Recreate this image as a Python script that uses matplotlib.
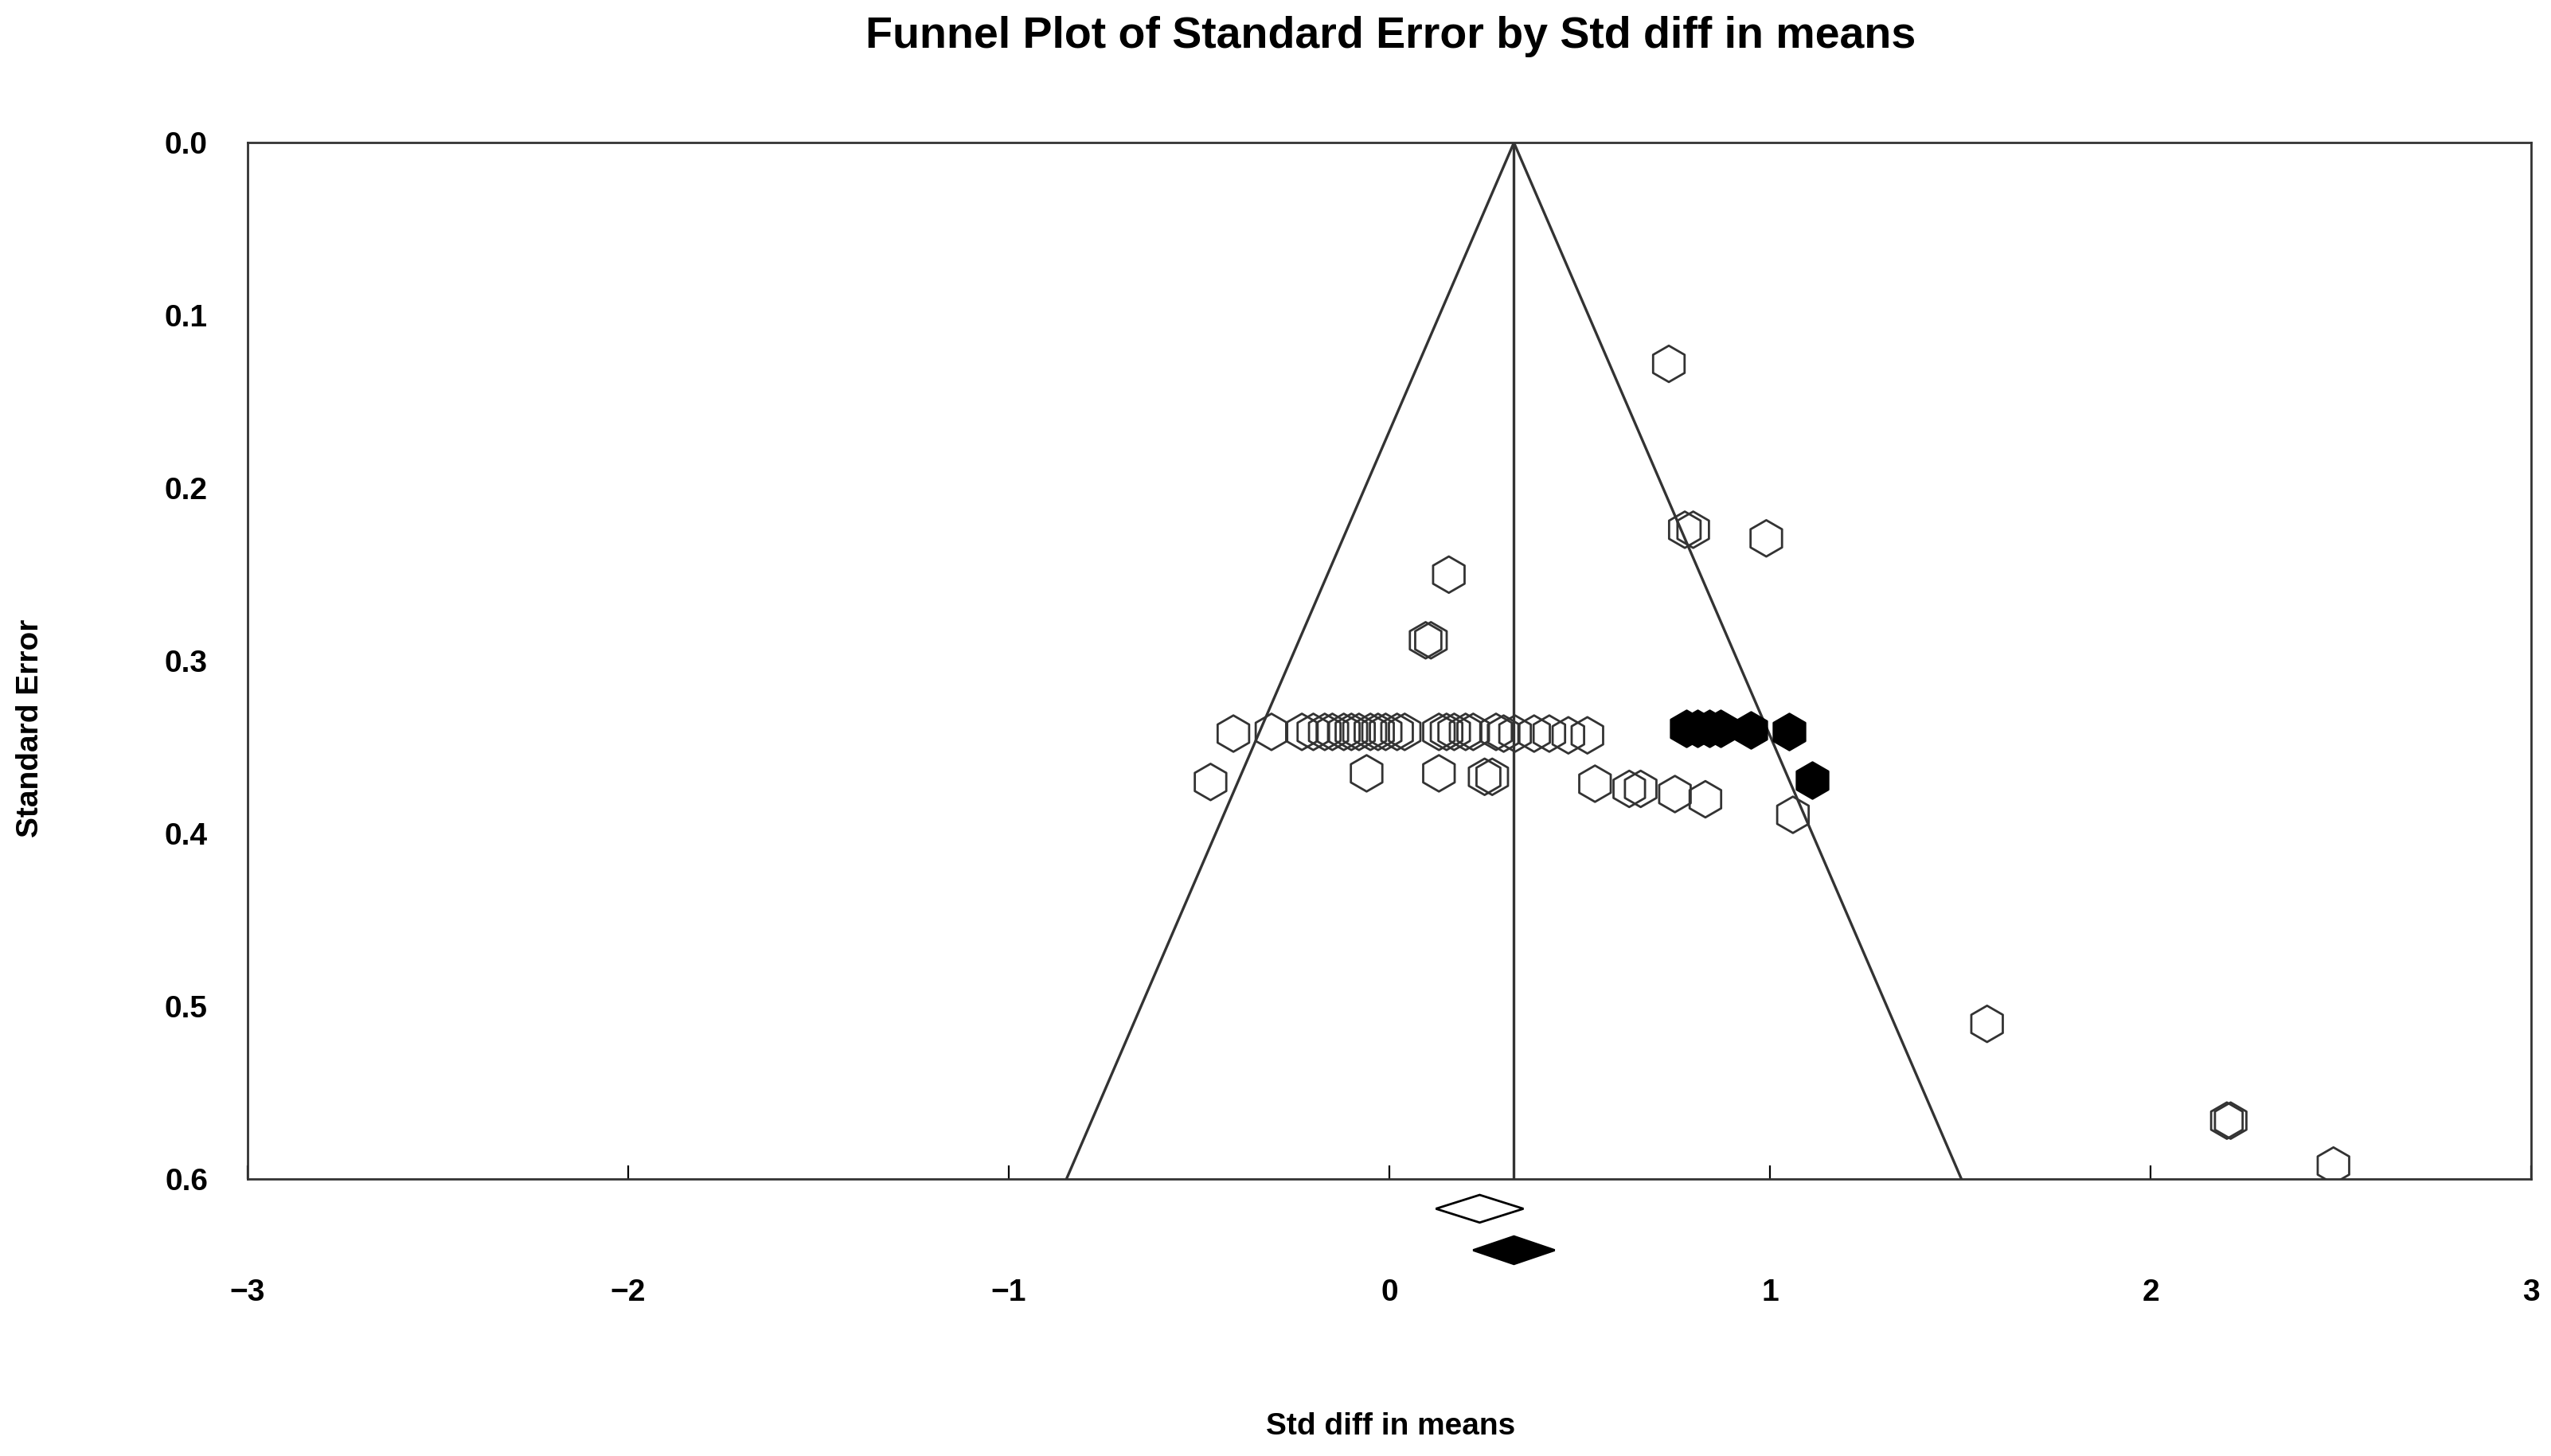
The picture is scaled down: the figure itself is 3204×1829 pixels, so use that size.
import matplotlib
matplotlib.use("Agg")
import matplotlib.pyplot as plt

plt.rcParams['font.family'] = ['Liberation Sans', 'DejaVu Sans']

open_x = [0.734, 0.776, 0.798, 0.99, 0.156, 0.095, 0.109,
          -0.41, -0.31, -0.23, -0.20, -0.17, -0.15, -0.12, -0.10, -0.08, -0.05, -0.03, -0.01, 0.02, 0.04,
          0.13, 0.15, 0.17, 0.20, 0.22, 0.28, 0.30, 0.33, 0.38, 0.42, 0.47, 0.52,
          -0.47, -0.06, 0.13, 0.25, 0.27, 0.54, 0.63, 0.66, 0.75, 0.83, 1.06,
          1.57, 2.20, 2.21, 2.48]
open_se = [0.128, 0.224, 0.224, 0.229, 0.250, 0.288, 0.288,
           0.342, 0.341, 0.341, 0.341, 0.341, 0.341, 0.341, 0.341, 0.341, 0.341, 0.341, 0.341, 0.341, 0.341,
           0.341, 0.341, 0.341, 0.341, 0.341, 0.341, 0.342, 0.342, 0.342, 0.342, 0.343, 0.343,
           0.370, 0.365, 0.365, 0.367, 0.367, 0.371, 0.374, 0.374, 0.377, 0.380, 0.389,
           0.510, 0.566, 0.566, 0.592]
filled_x = [0.78, 0.81, 0.84, 0.87, 0.95, 1.05, 1.11]
filled_se = [0.339, 0.339, 0.339, 0.339, 0.340, 0.341, 0.369]

observed_mean, observed_half = 0.237, 0.115
adjusted_mean, adjusted_half = 0.327, 0.107
max_se = 0.6

fig = plt.figure(figsize=(16.025, 9.145), dpi=200)
ax = fig.add_axes([0.097, 0.19, 0.895, 0.712])
ax.set_xlim(-3, 3)
ax.set_ylim(max_se, 0)

ax.plot([adjusted_mean - 1.96 * max_se, adjusted_mean, adjusted_mean + 1.96 * max_se],
        [max_se, 0, max_se], color='#333333', lw=1.2)
ax.plot([adjusted_mean, adjusted_mean], [0, max_se], color='#333333', lw=1.2)

ax.scatter(open_x, open_se, marker='h', s=270, facecolors='none', edgecolors='#333333', linewidths=1.0, zorder=3)
ax.scatter(filled_x, filled_se, marker='h', s=270, facecolors='black', edgecolors='black', linewidths=1.0, zorder=3)

def diamond(c, h, y, fc):
    ax.fill([c - h, c, c + h, c], [y, y - 0.008, y, y + 0.008], facecolor=fc,
            edgecolor='black', lw=1.0, clip_on=False, zorder=4)
diamond(observed_mean, observed_half, 0.617, 'white')
diamond(adjusted_mean, adjusted_half, 0.641, 'black')

ax.set_xticks([-3, -2, -1, 0, 1, 2, 3])
ax.set_xticklabels(['\u22123', '\u22122', '\u22121', '0', '1', '2', '3'])
ax.set_yticks([0.0, 0.1, 0.2, 0.3, 0.4, 0.5, 0.6])
ax.set_yticklabels(['0.0', '0.1', '0.2', '0.3', '0.4', '0.5', '0.6'])
ax.tick_params(axis='x', direction='in', length=6, pad=45, labelsize=14)
ax.tick_params(axis='y', direction='in', length=0, pad=18, labelsize=14)
for t in ax.get_xticklabels() + ax.get_yticklabels():
    t.set_fontweight('bold')
for s in ax.spines.values():
    s.set_color('#333333')
    s.set_linewidth(1.0)

fig.text(0.545, 0.02, 'Std diff in means', fontsize=14, fontweight='bold', ha='center', va='center')
fig.text(0.012, 0.5, 'Standard Error', fontsize=14, fontweight='bold', ha='center', va='center', rotation=90)
fig.text(0.545, 0.975, 'Funnel Plot of Standard Error by Std diff in means', fontsize=20,
         fontweight='bold', ha='center', va='center')

fig.savefig('out.png', dpi=200)
